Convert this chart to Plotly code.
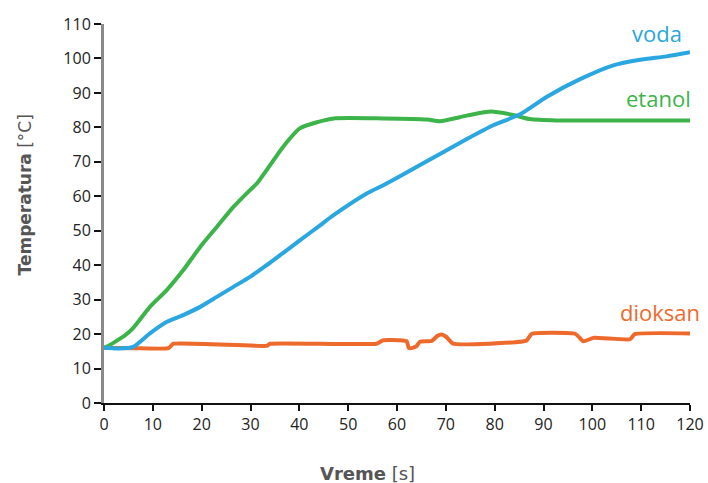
import plotly.graph_objects as go

# etanol (green)
et_x = [0, 0.5, 4.3, 6, 9.4, 12.8, 16.2, 19.7, 23.1, 26.5, 29.9, 31.3, 33.3, 36.7, 40.1, 43.9, 47, 57.2, 66.1, 68.8, 74.3, 79.2, 83.8, 87.2, 92.7, 100, 110, 120]
et_y = [16, 16.3, 19.6, 21.8, 27.9, 32.7, 38.5, 45.3, 51.1, 56.9, 61.8, 63.7, 67.6, 74.4, 79.7, 81.6, 82.6, 82.6, 82.3, 81.8, 83.4, 84.6, 83.6, 82.4, 82.0, 82.0, 82.0, 82.0]

# voda (blue)
vo_x = [0, 3, 6, 9.4, 12.8, 16.2, 19.7, 23.1, 26.5, 29.9, 33.3, 36.7, 40.1, 43.9, 47, 53.8, 57.2, 60.6, 67.4, 74.3, 79.7, 85.2, 90.7, 97.5, 104.3, 109.8, 115.2, 120]
vo_y = [16, 15.8, 16.3, 20.2, 23.5, 25.5, 27.9, 30.8, 33.7, 36.6, 40, 43.6, 47.2, 51.2, 54.5, 60.8, 63.2, 65.8, 71.2, 76.6, 80.6, 83.8, 88.9, 94.0, 98.0, 99.6, 100.6, 101.8]

# dioksan (orange)
di_x = [0, 6.3, 13.2, 14.2, 33.3, 34, 55.8, 57.2, 60.6, 62, 62.4, 63.2, 64, 64.7, 67.1, 68.3, 69.1, 70, 71.5, 86.5, 87.6, 96.5, 98.2, 100.2, 107.7, 108.7, 120]
di_y = [16, 15.9, 15.9, 17.2, 16.6, 17.2, 17.2, 18.2, 18.2, 17.9, 16.0, 16.0, 16.5, 17.8, 18.0, 19.5, 19.9, 19.3, 17.2, 18.1, 20.1, 20.1, 17.9, 18.9, 18.5, 20.0, 20.2]

series_names = ["voda", "etanol", "dioksan"]
x_ticks = list(range(0, 121, 10))
y_ticks = list(range(0, 111, 10))

BLUE = "#2aa7e0"
GREEN = "#3cb449"
ORANGE = "#ee6a2c"

fig = go.Figure()
fig.add_trace(go.Scatter(x=di_x, y=di_y, mode="lines", name=series_names[2],
                         line=dict(color=ORANGE, width=4, shape="spline", smoothing=0.4)))
fig.add_trace(go.Scatter(x=et_x, y=et_y, mode="lines", name=series_names[1],
                         line=dict(color=GREEN, width=4, shape="spline", smoothing=0.6)))
fig.add_trace(go.Scatter(x=vo_x, y=vo_y, mode="lines", name=series_names[0],
                         line=dict(color=BLUE, width=4, shape="spline", smoothing=0.6)))

label_font = "Open Sans, sans-serif"
fig.add_annotation(x=0.9898, y=107.4, xref="paper", yref="y", text=series_names[0], showarrow=False,
                   xanchor="right", yanchor="middle", font=dict(family=label_font, size=22, color=BLUE))
fig.add_annotation(x=1.005, y=88.5, xref="paper", yref="y", text=series_names[1], showarrow=False,
                   xanchor="right", yanchor="middle", font=dict(family=label_font, size=22, color=GREEN))
fig.add_annotation(x=1.0205, y=26.3, xref="paper", yref="y", text=series_names[2], showarrow=False,
                   xanchor="right", yanchor="middle", font=dict(family=label_font, size=22, color=ORANGE))

# axis titles
fig.add_annotation(xref="paper", yref="paper", x=-0.135, y=0.55, textangle=-90,
                   text="<b>Temperatura</b> [°C]", showarrow=False, xanchor="center", yanchor="middle",
                   font=dict(family="DejaVu Sans, sans-serif", size=17, color="#555555"))
fig.add_annotation(xref="paper", yref="paper", x=0.449, y=-0.185,
                   text="<b>Vreme</b> [s]", showarrow=False, xanchor="center", yanchor="middle",
                   font=dict(family="DejaVu Sans, sans-serif", size=18, color="#555555"))

fig.update_layout(
    width=708, height=483,
    margin=dict(l=104, r=18, t=24, b=80, autoexpand=False),
    plot_bgcolor="white", paper_bgcolor="white",
    showlegend=False,
    font=dict(family=label_font, size=16, color="#222222"),
)
fig.update_xaxes(range=[0, 120], tickvals=x_ticks, ticktext=[str(v) for v in x_ticks],
                 showgrid=False, zeroline=False, showline=True, linecolor="#111111", linewidth=1.5,
                 ticks="outside", ticklen=6, tickwidth=1.5, tickcolor="#111111", automargin=False,
                 tickfont=dict(family=label_font, size=16, color="#222222"))
fig.update_yaxes(range=[0, 110], tickvals=y_ticks, ticktext=[str(v) for v in y_ticks],
                 showgrid=False, zeroline=False, showline=True, linecolor="#8a8a8a", linewidth=3,
                 ticks="outside", ticklen=7, tickwidth=1.5, tickcolor="#111111", automargin=False,
                 tickfont=dict(family=label_font, size=16, color="#222222"))

fig.write_html("out.html")
